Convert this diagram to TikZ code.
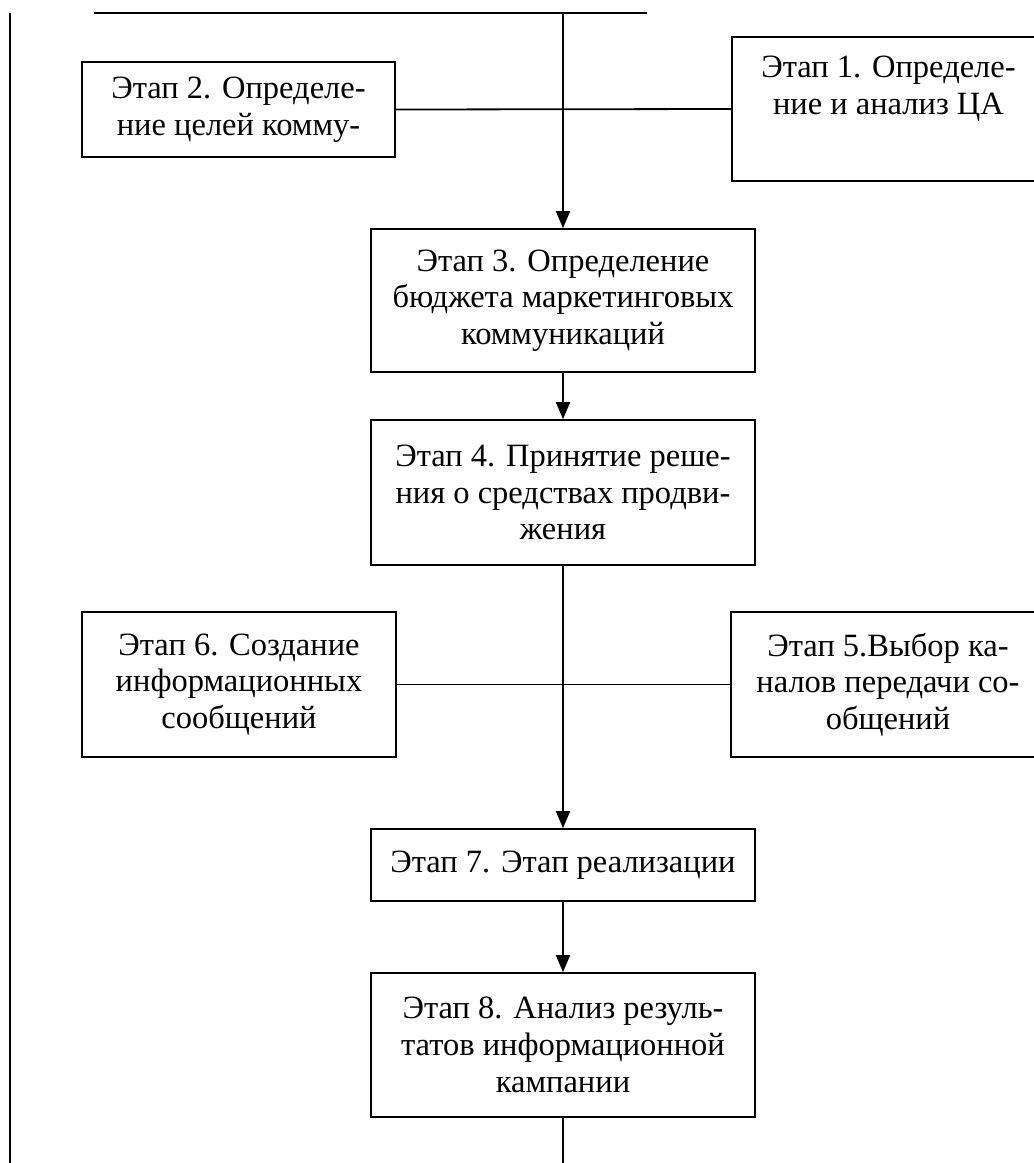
\documentclass[tikz,border=0pt]{standalone}
\usepackage{fontspec}
\setmainfont{Liberation Serif}
\usetikzlibrary{arrows.meta}
\begin{document}
\begin{tikzpicture}[x=1pt,y=-1pt,
  box/.style={draw,line width=1.8pt,inner sep=0pt,align=center,
    font=\fontsize{32.5}{36.7}\selectfont},
  conn/.style={line width=1.8pt},
  arr/.style={conn,-{Triangle[length=17pt,width=14pt]}}]
\useasboundingbox (0,0) rectangle (1034,1163);
\clip (0,0) rectangle (1034,1163);
\node[box,minimum width=313pt,minimum height=144pt] (s1) at (888.5,109)
  {Этап 1. Определе-\\ние и анализ ЦА\\\strut};
\node[box,minimum width=313pt,minimum height=95pt] (s2) at (238.5,109.5)
  {Этап 2. Определе-\\ние целей комму-};
\node[box,minimum width=384pt,minimum height=143pt] (s3) at (563,300.5)
  {Этап 3. Определение\\бюджета маркетинговых\\коммуникаций};
\node[box,minimum width=384pt,minimum height=145pt] (s4) at (563,492.5)
  {Этап 4. Принятие реше-\\ния о средствах продви-\\жения};
\node[box,minimum width=314pt,minimum height=145pt] (s5) at (888,684.5)
  {Этап 5.Выбор ка-\\налов передачи со-\\общений};
\node[box,minimum width=314pt,minimum height=145pt] (s6) at (239,684.5)
  {Этап 6. Создание\\информационных\\сообщений};
\node[box,minimum width=384pt,minimum height=72pt] (s7) at (563,865)
  {Этап 7. Этап реализации};
\node[box,minimum width=384pt,minimum height=144pt] (s8) at (563,1045)
  {Этап 8. Анализ резуль-\\татов информационной\\кампании};
\coordinate (tl) at (94,13);
\coordinate (tr) at (647,13);
\coordinate (tc) at (563,13);
\coordinate (lt) at (10,13);
\coordinate (lb) at (10,1163);
\coordinate (bc) at (563,1163);
\draw[conn] (tl) -- (tr);
\draw[conn] (lt) -- (lb);
\draw[arr] (tc) -- (s3.north);
\draw[conn] (s2.east) -- (s1.west);
\draw[arr] (s3.south) -- (s4.north);
\draw[arr] (s4.south) -- (s7.north);
\draw[conn] (s6.east) -- (s5.west);
\draw[arr] (s7.south) -- (s8.north);
\draw[conn] (s8.south) -- (bc);
\end{tikzpicture}
\end{document}
